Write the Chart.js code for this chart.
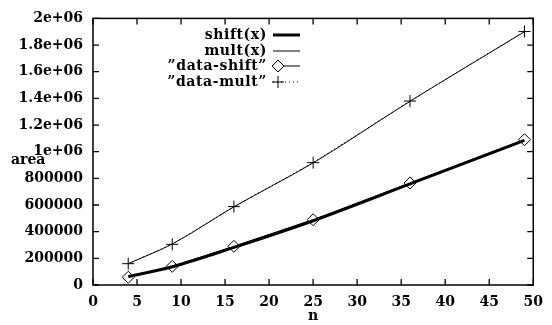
<!DOCTYPE html>
<html>
<head>
<meta charset="utf-8">
<script src="https://cdn.jsdelivr.net/npm/chart.js@4/dist/chart.umd.min.js"></script>
<style>
  html, body { margin: 0; padding: 0; background: #fff; }
  #wrap { width: 552px; height: 325px; }
</style>
</head>
<body>
<div id="wrap"><canvas id="areaChart" width="552" height="325"></canvas></div>
<script>
// n values measured
const nValues = [4, 9, 16, 25, 36, 49];
const dataShift = [58000, 140000, 290000, 490000, 765000, 1090000];
const dataMult = [160000, 305000, 588000, 918000, 1380000, 1902000];

// fitted curves
const fitX = [4, 9, 16, 25, 36, 49];
const shiftFit = [62000, 137000, 282000, 482000, 758000, 1085000];
const multFit = [160000, 308000, 586000, 916000, 1378000, 1900000];

const xTickLabels = ['0', '5', '10', '15', '20', '25', '30', '35', '40', '45', '50'];
const yTickLabels = ['0', '200000', '400000', '600000', '800000', '1e+06',
                     '1.2e+06', '1.4e+06', '1.6e+06', '1.8e+06', '2e+06'];
const legendLabels = ['shift(x)', 'mult(x)', '\u201Ddata-shift\u201D', '\u201Ddata-mult\u201D'];

const FAMILY = '"DejaVu Serif", "Liberation Serif", serif';
const FONT = 'bold 14px ' + FAMILY;

function pts(xs, ys) {
    return xs.map((x, i) => ({ x: x, y: ys[i] }));
}

// white background, frame, inward ticks, axis titles
const gnuplotFrame = {
    id: 'gnuplotFrame',
    beforeDraw(chart) {
        const ctx = chart.ctx;
        ctx.save();
        ctx.fillStyle = '#fff';
        ctx.fillRect(0, 0, chart.width, chart.height);
        ctx.restore();
    },
    beforeDatasetsDraw(chart) {
        const ctx = chart.ctx;
        const a = chart.chartArea;
        const xs = chart.scales.x, ys = chart.scales.y;
        ctx.save();
        ctx.strokeStyle = '#000';
        ctx.lineWidth = 1.5;
        ctx.strokeRect(a.left, a.top, a.right - a.left, a.bottom - a.top);
        ctx.lineWidth = 1.3;
        ctx.beginPath();
        xs.ticks.forEach(t => {
            const px = xs.getPixelForValue(t.value);
            ctx.moveTo(px, a.bottom); ctx.lineTo(px, a.bottom - 6);
            ctx.moveTo(px, a.top); ctx.lineTo(px, a.top + 6);
        });
        ys.ticks.forEach(t => {
            const py = ys.getPixelForValue(t.value);
            ctx.moveTo(a.left, py); ctx.lineTo(a.left + 6, py);
            ctx.moveTo(a.right, py); ctx.lineTo(a.right - 6, py);
        });
        ctx.stroke();

        ctx.fillStyle = '#000';
        ctx.font = FONT;
        ctx.textBaseline = 'middle';
        ctx.textAlign = 'left';
        ctx.fillText('area', 11, 160);
        ctx.textAlign = 'center';
        ctx.fillText('n', (a.left + a.right) / 2, 316);
        ctx.restore();
    }
};

// gnuplot style key: label right aligned, sample on the right
const gnuplotKey = {
    id: 'gnuplotKey',
    afterDatasetsDraw(chart) {
        const ctx = chart.ctx;
        const rows = [35, 51, 66, 82];
        ctx.save();
        ctx.font = FONT;
        ctx.letterSpacing = '0.6px';
        ctx.textAlign = 'right';
        ctx.textBaseline = 'middle';
        chart.data.datasets.forEach((ds, i) => {
            const y = rows[i];
            ctx.fillStyle = '#000';
            ctx.fillText(legendLabels[i], 267, y);
            ctx.strokeStyle = '#000';
            ctx.lineWidth = ds.borderWidth;
            ctx.setLineDash(ds.borderDash || []);
            ctx.beginPath();
            ctx.moveTo(273, y);
            ctx.lineTo(300, y);
            ctx.stroke();
            ctx.setLineDash([]);
            if (ds.pointRadius > 0) {
                ctx.fillStyle = '#fff';
                ctx.strokeStyle = '#000';
                ctx.lineWidth = 1;
                Chart.helpers.drawPoint(ctx, {
                    pointStyle: ds.pointStyle,
                    radius: ds.pointRadius,
                    rotation: 0,
                    borderWidth: 1
                }, 278, y);
            }
        });
        ctx.restore();
    }
};

const ctx = document.getElementById('areaChart').getContext('2d');
const chart = new Chart(ctx, {
    type: 'scatter',
    data: {
        datasets: [
            {
                label: 'shift(x)',
                data: pts(fitX, shiftFit),
                showLine: true,
                borderColor: '#000',
                borderWidth: 3,
                pointRadius: 0,
                cubicInterpolationMode: 'monotone'
            },
            {
                label: 'mult(x)',
                data: pts(fitX, multFit),
                showLine: true,
                borderColor: '#000',
                borderWidth: 1,
                pointRadius: 0,
                cubicInterpolationMode: 'monotone'
            },
            {
                label: 'data-shift',
                data: pts(nValues, dataShift),
                showLine: true,
                borderColor: '#000',
                borderWidth: 1,
                pointStyle: 'rectRot',
                pointRadius: 6,
                pointBackgroundColor: '#fff',
                pointBorderColor: '#000',
                pointBorderWidth: 1
            },
            {
                label: 'data-mult',
                data: pts(nValues, dataMult),
                showLine: true,
                borderColor: '#000',
                borderWidth: 1,
                borderDash: [1, 3],
                pointStyle: 'cross',
                pointRadius: 6,
                pointBorderColor: '#000',
                pointBorderWidth: 1
            }
        ]
    },
    options: {
        responsive: false,
        animation: false,
        layout: { padding: { left: 0, right: 17, top: 11, bottom: 0 } },
        plugins: {
            legend: { display: false },
            tooltip: { enabled: false }
        },
        scales: {
            x: {
                type: 'linear',
                min: 0,
                max: 50,
                afterFit: s => { s.height = 40; },
                grid: { display: false, drawTicks: false },
                border: { display: false },
                ticks: {
                    stepSize: 5,
                    padding: 9,
                    color: '#000',
                    font: { family: FAMILY, size: 14, weight: 'bold' },
                    callback: (v, i) => xTickLabels[i]
                }
            },
            y: {
                type: 'linear',
                min: 0,
                max: 2000000,
                afterFit: s => { s.width = 93; },
                grid: { display: false, drawTicks: false },
                border: { display: false },
                ticks: {
                    stepSize: 200000,
                    padding: 10,
                    color: '#000',
                    font: { family: FAMILY, size: 14, weight: 'bold' },
                    callback: (v, i) => yTickLabels[i]
                }
            }
        }
    },
    plugins: [gnuplotFrame, gnuplotKey]
});
</script>
</body>
</html>
